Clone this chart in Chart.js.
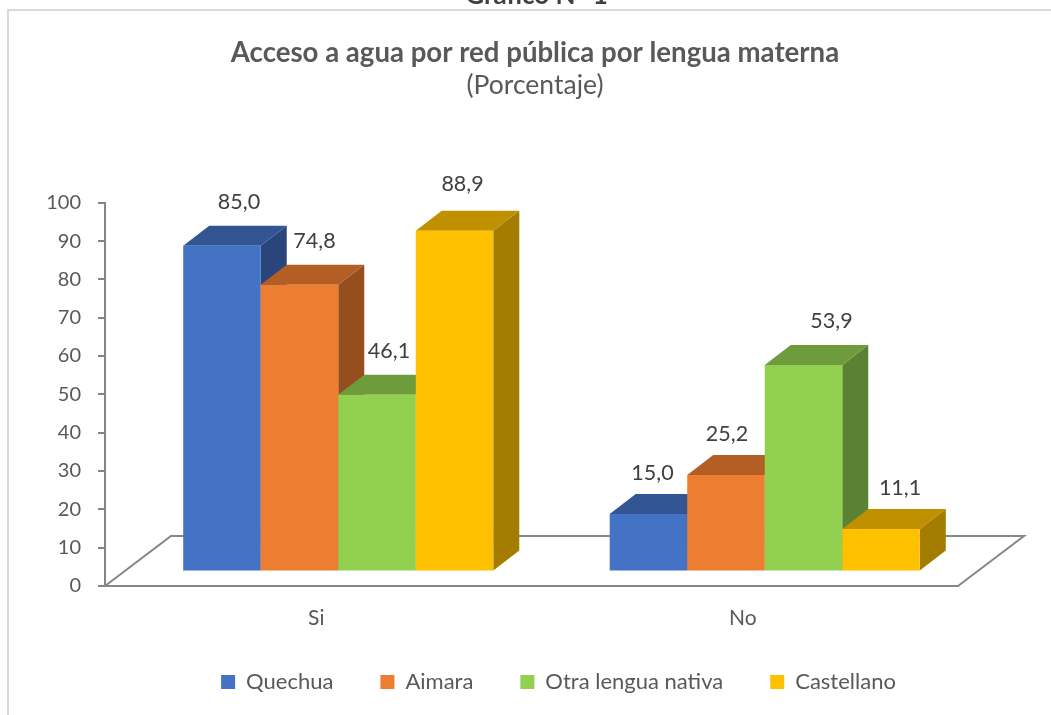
<!DOCTYPE html>
<html><head><meta charset="utf-8">
<script src="https://cdn.jsdelivr.net/npm/chart.js@4"></script>
<style>html,body{margin:0;padding:0;background:#fff}canvas{display:block}</style>
</head><body><div style="width:1051px;height:715px"><canvas id="c" width="1051" height="715"></canvas></div>
<script>
const categories = ['Si', 'No'];
const seriesNames = ['Quechua', 'Aimara', 'Otra lengua nativa', 'Castellano'];
const quechua = [85.0, 15.0];
const aimara = [74.8, 25.2];
const otraLengua = [46.1, 53.9];
const castellano = [88.9, 11.1];
const yTicks = [0, 10, 20, 30, 40, 50, 60, 70, 80, 90, 100];

const FONT = 'Lato, Carlito, Calibri, sans-serif';
const frontColors = ['#4472C4', '#ED7D31', '#92D050', '#FFC000'];
const topColors = ['#335593', '#B35E25', '#6E9C3C', '#BF9000'];
const sideColors = ['#2A4579', '#974E1E', '#5B8232', '#A47C00'];
const FLOOR = { dx: 66, dy: -50 };
const BAR_DEPTH = { dx: 26, dy: -20 };
const BAR_SHIFT = { x: 20, y: -14.5 };
const labelNudge = [[[17, -24], [4, -21]], [[15, -23.5], [1, -21]], [[12, -24], [28, -23.5]], [[8, -27], [19, -20.5]]];

const threeD = {
  id: 'threeD',
  afterLayout(chart) {
    chart.boxes.forEach(b => {
      if (b === chart.legend) { b.left = 66; b.right = 1051; b.top = 624; }
      else if (b.fullSize) { b.left = 19; b.right = 1051; }
    });
  },
  beforeDraw(chart) {
    const c = chart.ctx;
    c.save();
    c.fillStyle = '#fff'; c.fillRect(0, 0, chart.width, chart.height);
    c.strokeStyle = '#D9D9D9'; c.lineWidth = 2;
    c.beginPath(); c.moveTo(8, 715); c.lineTo(8, 10); c.lineTo(1051, 10); c.stroke();
    c.fillStyle = '#404040'; c.font = 'bold 26px ' + FONT; c.textAlign = 'center'; c.textBaseline = 'alphabetic';
    c.fillText('Gráfico N° 1', 536.5, 4);
    c.restore();
  },
  beforeDatasetsDraw(chart) {
    const c = chart.ctx, a = chart.chartArea;
    c.save();
    c.strokeStyle = '#868686'; c.lineWidth = 2;
    c.beginPath();
    c.moveTo(a.left, a.bottom);
    c.lineTo(a.left + FLOOR.dx, a.bottom + FLOOR.dy);
    c.lineTo(a.right + FLOOR.dx, a.bottom + FLOOR.dy);
    c.lineTo(a.right, a.bottom);
    c.stroke();
    c.restore();
    // Draw the series left to right so each bar's front hides its neighbour's side face.
    chart.data.datasets.forEach((ds, i) => {
      const meta = chart.getDatasetMeta(i);
      c.save();
      c.translate(BAR_SHIFT.x, BAR_SHIFT.y);
      meta.data.forEach(el => {
        const p = el.getProps(['x', 'y', 'base', 'width'], true);
        const l = p.x - p.width / 2, r = p.x + p.width / 2;
        const dx = BAR_DEPTH.dx, dy = BAR_DEPTH.dy;
        c.fillStyle = sideColors[i];
        c.beginPath(); c.moveTo(r, p.y); c.lineTo(r + dx, p.y + dy); c.lineTo(r + dx, p.base + dy); c.lineTo(r, p.base); c.closePath(); c.fill();
        c.fillStyle = topColors[i];
        c.beginPath(); c.moveTo(l, p.y); c.lineTo(l + dx, p.y + dy); c.lineTo(r + dx, p.y + dy); c.lineTo(r, p.y); c.closePath(); c.fill();
      });
      meta.controller.draw();
      c.restore();
    });
  },
  beforeDatasetDraw() { return false; },
  afterDatasetsDraw(chart) {
    const c = chart.ctx;
    c.save();
    c.fillStyle = '#404040'; c.font = '21.5px ' + FONT; c.textAlign = 'center'; c.textBaseline = 'middle';
    chart.data.datasets.forEach((ds, i) => {
      chart.getDatasetMeta(i).data.forEach((el, j) => {
        const p = el.getProps(['x', 'y'], true);
        const n = labelNudge[i][j];
        c.fillText(ds.data[j].toFixed(1).replace('.', ','), p.x + BAR_SHIFT.x + n[0], p.y + BAR_SHIFT.y + BAR_DEPTH.dy + n[1]);
      });
    });
    c.restore();
  }
};

const seriesData = [quechua, aimara, otraLengua, castellano];
new Chart(document.getElementById('c'), {
  type: 'bar',
  plugins: [threeD],
  data: {
    labels: categories,
    datasets: seriesNames.map((name, i) => ({
      label: name,
      data: seriesData[i],
      backgroundColor: frontColors[i],
      borderWidth: 0,
      barPercentage: 1,
      categoryPercentage: 0.727
    }))
  },
  options: {
    responsive: false,
    animation: false,
    layout: { padding: { left: 0, right: 93, top: 0, bottom: 5 } },
    plugins: {
      tooltip: { enabled: false },
      title: {
        display: true,
        text: 'Acceso a agua por red pública por lengua materna',
        color: '#595959',
        font: { family: FONT, size: 27.6, weight: 'bold', lineHeight: 1.2 },
        padding: { top: 36.5, bottom: 0 }
      },
      subtitle: {
        display: true,
        text: '(Porcentaje)',
        color: '#595959',
        font: { family: FONT, size: 26.5, weight: 'normal', lineHeight: 1.2 },
        padding: { top: 0, bottom: 101.3 }
      },
      legend: {
        position: 'bottom',
        labels: {
          color: '#595959',
          font: { family: FONT, size: 22 },
          boxWidth: 14, boxHeight: 14, padding: 47
        }
      }
    },
    scales: {
      x: {
        afterFit: s => { s.height = 45; },
        grid: { display: false, drawTicks: false },
        border: { color: '#868686', width: 2 },
        ticks: { color: '#595959', font: { family: FONT, size: 21 }, padding: 20, maxRotation: 0, labelOffset: -2 }
      },
      y: {
        min: 0, max: 100,
        afterFit: s => { s.width = 105; },
        afterBuildTicks: s => { s.ticks = yTicks.map(v => ({ value: v })); },
        grid: { drawOnChartArea: false, drawTicks: true, tickLength: 7, tickColor: '#868686', lineWidth: 2 },
        border: { color: '#868686', width: 2 },
        ticks: { color: '#595959', font: { family: FONT, size: 20 }, padding: 17 }
      }
    }
  }
});
</script></body></html>
